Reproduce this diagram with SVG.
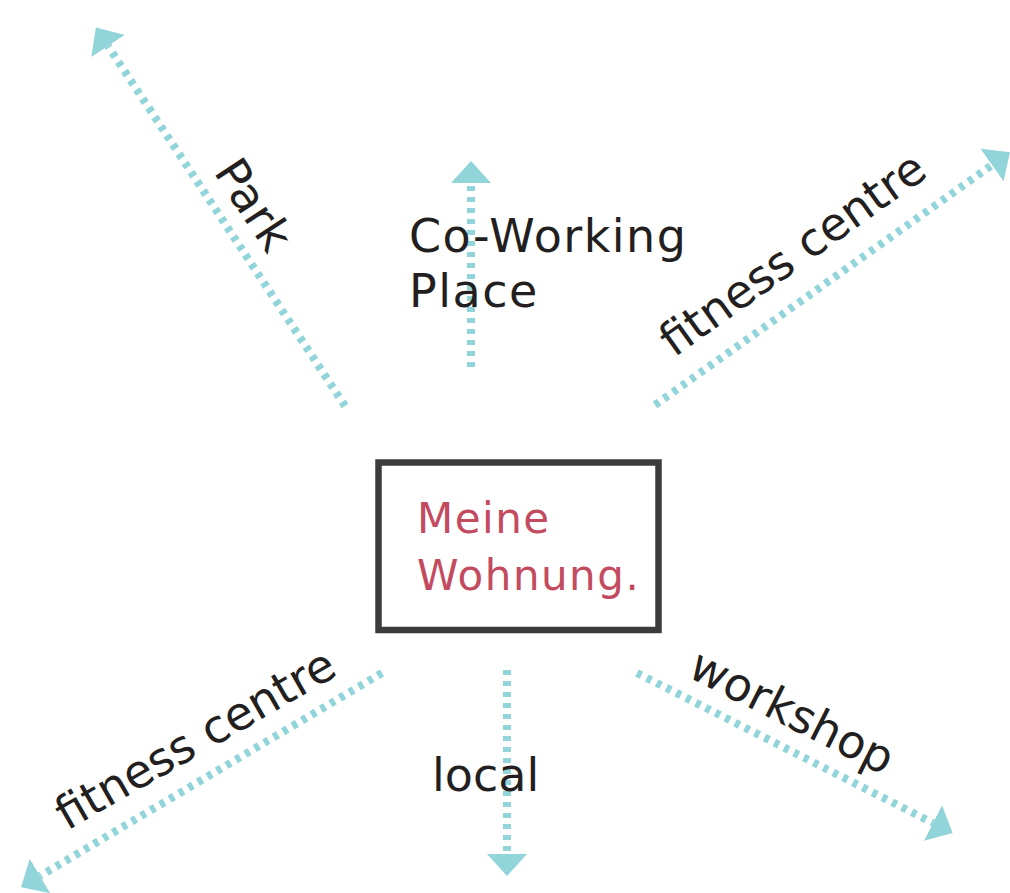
<svg xmlns="http://www.w3.org/2000/svg" width="1010" height="893" viewBox="0 0 1010 893">
  <style>
    .conn { fill: none; stroke: #91d4d9; stroke-width: 8; stroke-dasharray: 5 6; stroke-linecap: butt; }
    .lbl { font-family: "DejaVu Sans", "Liberation Sans", sans-serif; font-size: 46px; fill: #231f20; }
    .home { font-family: "DejaVu Sans", "Liberation Sans", sans-serif; font-size: 42px; fill: #c34b5f; letter-spacing: 1.5px; }
    .box { fill: #ffffff; stroke: #3c3c3c; stroke-width: 6.5; }
  </style>
  <defs>
    <marker id="ah" viewBox="0 0 22 40" markerWidth="22" markerHeight="40" refX="0" refY="20" orient="auto" markerUnits="userSpaceOnUse">
      <path d="M0,0 L22,20 L0,40 z" fill="#91d4d9"/>
    </marker>
  </defs>
  <rect width="1010" height="893" fill="#ffffff"/>
  <g id="connectors">
    <path class="conn" d="M345,406 L108,46" marker-end="url(#ah)"/>
    <path class="conn" d="M471,367 L471,183" marker-end="url(#ah)"/>
    <path class="conn" d="M655,405 L992,165" marker-end="url(#ah)"/>
    <path class="conn" d="M382,673 L40,876" marker-end="url(#ah)"/>
    <path class="conn" d="M507,670 L507,854" marker-end="url(#ah)"/>
    <path class="conn" d="M637,673 L933,823" marker-end="url(#ah)"/>
  </g>
  <g id="home">
    <rect class="box" x="378.5" y="462.5" width="280" height="167.5"/>
    <text class="home" x="417" y="533">Meine</text>
    <text class="home" x="417" y="590">Wohnung.</text>
  </g>
  <g id="park">
    <text class="lbl" transform="translate(213,172) rotate(56.7)">Park</text>
  </g>
  <g id="coworking">
    <text class="lbl" x="409" y="252" letter-spacing="1.5">Co-Working</text>
    <text class="lbl" x="409" y="307" letter-spacing="1.5">Place</text>
  </g>
  <g id="fitness-top">
    <text class="lbl" transform="translate(674,358) rotate(-35.5)">fitness centre</text>
  </g>
  <g id="fitness-bottom">
    <text class="lbl" transform="translate(67,831) rotate(-29.9)">fitness centre</text>
  </g>
  <g id="local">
    <text class="lbl" x="432" y="791">local</text>
  </g>
  <g id="workshop">
    <text class="lbl" transform="translate(686,676) rotate(26.7)">workshop</text>
  </g>
</svg>
